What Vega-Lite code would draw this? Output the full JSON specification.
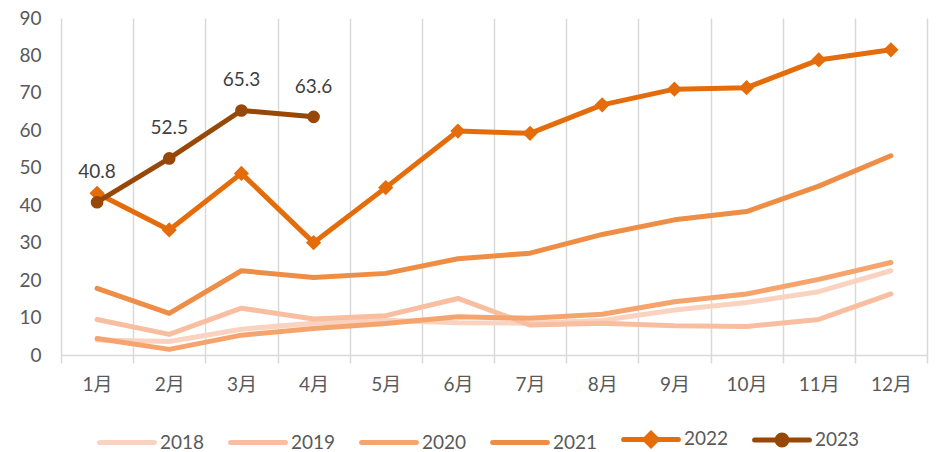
{
  "$schema": "https://vega.github.io/schema/vega-lite/v6.json",
  "autosize": {"type": "none"},
  "width": 866,
  "height": 337,
  "padding": {"left": 61, "top": 18, "right": 12, "bottom": 97},
  "config": {
    "view": {"stroke": null},
    "font": "Lato, Noto Sans CJK SC",
    "axis": {"labelFont": "Lato, Noto Sans CJK SC", "labelColor": "#595959", "labelFontSize": 19},
    "legend": {"labelFont": "Lato", "labelColor": "#595959", "labelFontSize": 19}
  },
  "data": {"values": [
    {"m":"1月","y":"2018","v":4.0},{"m":"2月","y":"2018","v":3.6},{"m":"3月","y":"2018","v":6.9},{"m":"4月","y":"2018","v":8.5},{"m":"5月","y":"2018","v":9.3},{"m":"6月","y":"2018","v":8.6},{"m":"7月","y":"2018","v":8.5},{"m":"8月","y":"2018","v":9.2},{"m":"9月","y":"2018","v":12.0},{"m":"10月","y":"2018","v":14.0},{"m":"11月","y":"2018","v":16.9},{"m":"12月","y":"2018","v":22.5},
    {"m":"1月","y":"2019","v":9.5},{"m":"2月","y":"2019","v":5.5},{"m":"3月","y":"2019","v":12.5},{"m":"4月","y":"2019","v":9.6},{"m":"5月","y":"2019","v":10.5},{"m":"6月","y":"2019","v":15.1},{"m":"7月","y":"2019","v":8.0},{"m":"8月","y":"2019","v":8.5},{"m":"9月","y":"2019","v":7.8},{"m":"10月","y":"2019","v":7.6},{"m":"11月","y":"2019","v":9.5},{"m":"12月","y":"2019","v":16.3},
    {"m":"1月","y":"2020","v":4.4},{"m":"2月","y":"2020","v":1.5},{"m":"3月","y":"2020","v":5.3},{"m":"4月","y":"2020","v":7.1},{"m":"5月","y":"2020","v":8.4},{"m":"6月","y":"2020","v":10.2},{"m":"7月","y":"2020","v":9.8},{"m":"8月","y":"2020","v":10.9},{"m":"9月","y":"2020","v":14.2},{"m":"10月","y":"2020","v":16.3},{"m":"11月","y":"2020","v":20.2},{"m":"12月","y":"2020","v":24.7},
    {"m":"1月","y":"2021","v":17.8},{"m":"2月","y":"2021","v":11.1},{"m":"3月","y":"2021","v":22.5},{"m":"4月","y":"2021","v":20.7},{"m":"5月","y":"2021","v":21.8},{"m":"6月","y":"2021","v":25.7},{"m":"7月","y":"2021","v":27.2},{"m":"8月","y":"2021","v":32.2},{"m":"9月","y":"2021","v":36.1},{"m":"10月","y":"2021","v":38.3},{"m":"11月","y":"2021","v":45.1},{"m":"12月","y":"2021","v":53.2},
    {"m":"1月","y":"2022","v":43.2},{"m":"2月","y":"2022","v":33.4},{"m":"3月","y":"2022","v":48.5},{"m":"4月","y":"2022","v":30.0},{"m":"5月","y":"2022","v":44.7},{"m":"6月","y":"2022","v":59.8},{"m":"7月","y":"2022","v":59.2},{"m":"8月","y":"2022","v":66.8},{"m":"9月","y":"2022","v":71.0},{"m":"10月","y":"2022","v":71.4},{"m":"11月","y":"2022","v":78.8},{"m":"12月","y":"2022","v":81.5},
    {"m":"1月","y":"2023","v":40.8},{"m":"2月","y":"2023","v":52.5},{"m":"3月","y":"2023","v":65.3},{"m":"4月","y":"2023","v":63.6}
  ]},
  "encoding": {
    "x": {"field": "m", "type": "ordinal", "sort": ["1月","2月","3月","4月","5月","6月","7月","8月","9月","10月","11月","12月"],
      "scale": {"paddingInner": 0, "paddingOuter": 0},
      "axis": {"title": null, "labelAngle": 0, "tickBand": "extent", "grid": true, "gridColor": "#D9D9D9", "gridWidth": 1.5,
        "domainColor": "#D9D9D9", "domainWidth": 1.5, "tickColor": "#D9D9D9", "tickWidth": 1.5, "tickSize": 8, "labelPadding": 12}},
    "y": {"field": "v", "type": "quantitative", "scale": {"domain": [0, 90], "nice": false},
      "axis": {"title": null, "values": [0,10,20,30,40,50,60,70,80,90], "grid": false, "domain": false, "ticks": false, "labelPadding": 20}},
    "color": {"field": "y", "type": "nominal",
      "scale": {"domain": ["2018","2019","2020","2021","2022","2023"], "range": ["#FAD3C0","#F8BE9F","#F6A46E","#EE8E46","#E46C0A","#974706"]}}
  },
  "layer": [
    {"mark": {"type": "line", "strokeWidth": 5, "strokeCap": "round", "strokeJoin": "round"},
      "encoding": {"color": {"field": "y", "type": "nominal",
        "legend": {"title": null, "orient": "none", "legendX": 36, "legendY": 391, "direction": "horizontal", "columns": 6,
          "symbolSize": 3000, "symbolStrokeWidth": 5, "columnPadding": 15, "labelOffset": 3, "labelLimit": 200,
          "encode": {"symbols": {"update": {
            "shape": {"signal": "datum.value == '2022' ? 'M-1,0H1M0,-0.22L0.22,0L0,0.22L-0.22,0Z' : datum.value == '2023' ? 'M-1,0H1M0.18,0A0.18,0.18,0,1,1,-0.18,0A0.18,0.18,0,1,1,0.18,0Z' : 'stroke'"},
            "fill": {"scale": "color", "field": "value"},
            "strokeCap": {"value": "round"}
          }}}}}}},
    {"transform": [{"filter": "datum.y == '2022'"}],
      "mark": {"type": "point", "shape": "diamond", "filled": true, "size": 230, "opacity": 1}},
    {"transform": [{"filter": "datum.y == '2023'"}],
      "mark": {"type": "point", "shape": "circle", "filled": true, "size": 160, "opacity": 1}},
    {"transform": [{"filter": "datum.y == '2023'"}],
      "mark": {"type": "text", "baseline": "bottom", "dy": -20, "fontSize": 19, "font": "Lato", "color": "#404040"},
      "encoding": {"text": {"field": "v", "type": "quantitative", "format": ".1f"}, "color": {"value": "#404040"}}}
  ]
}
